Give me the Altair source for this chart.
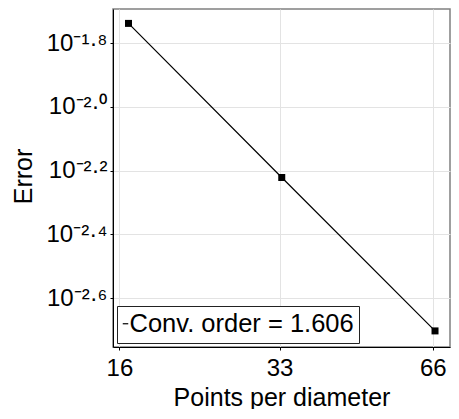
import altair as alt
import pandas as pd

# ---- data ----
points_per_diameter = [50 / 3, 100 / 3, 200 / 3]
error_values = [0.01829, 0.006006, 0.001982]
series_label = "Conv. order = 1.606"

x_tick_values = [16, 33, 66]
y_tick_exponents = [-2.6, -2.4, -2.2, -2.0, -1.8]
y_tick_labels = ["10⁻²·⁶", "10⁻²·⁴", "10⁻²·²", "10⁻²·⁰", "10⁻¹·⁸"]

x_domain = [15.54, 71.34]
y_domain = [10 ** -2.7534, 10 ** -1.6926]

df = pd.DataFrame({
    "ppd": points_per_diameter,
    "err": error_values,
    "series": [series_label] * len(points_per_diameter),
})

# label expression: map exponent*10 -> label
expr = "''"
for e, lab in zip(y_tick_exponents, y_tick_labels):
    expr = f"(round(log(datum.value)/LN10*10) == {round(e*10)}) ? '{lab}' : " + expr
y_vals = [10 ** e for e in y_tick_exponents]

FONT = "Liberation Sans"

x_enc = alt.X(
    "ppd:Q",
    scale=alt.Scale(type="log", domain=x_domain, nice=False, zero=False),
    axis=alt.Axis(
        title="Points per diameter",
        values=x_tick_values,
        format="d",
        labelBaseline="alphabetic",
        labelPadding=25,
        titleY=58,
        titleBaseline="alphabetic",
    ),
)
y_enc = alt.Y(
    "err:Q",
    scale=alt.Scale(type="log", domain=y_domain, nice=False, zero=False),
    axis=alt.Axis(
        title="Error",
        values=y_vals,
        labelExpr=expr,
        labelPadding=3,
        titleX=-82,
        titleY=167,
        titleAngle=270,
        titleBaseline="alphabetic",
    ),
)

line = alt.Chart(df).mark_line(strokeWidth=1.2).encode(
    x=x_enc,
    y=y_enc,
    color=alt.Color(
        "series:N",
        scale=alt.Scale(range=["black"]),
        legend=alt.Legend(
            title=None,
            orient="bottom-left",
            offset=4,
            padding=5,
            symbolType="M-2.4,0L-1.3,0",
            symbolSize=100,
            symbolStrokeWidth=1.2,
            symbolStrokeColor="black",
            symbolFillColor="transparent",
            labelOffset={"expr": "-18"},
            labelFontSize=25.5,
            labelFont=FONT,
            labelColor="black",
            labelLimit=400,
            strokeColor="#222222",
            fillColor="white",
        ),
    ),
)

pts = alt.Chart(df).mark_point(shape="square", filled=True, size=49, opacity=1, color="black").encode(
    x="ppd:Q",
    y="err:Q",
)

chart = (
    alt.layer(line, pts)
    .properties(
        width=337,
        height=338,
        autosize=alt.AutoSizeParams(type="none"),
        padding={"left": 105, "top": 1, "right": 1, "bottom": 62},
    )
    .configure_view(stroke="#808080", strokeWidth=1.5)
    .configure_axis(
        labelFont=FONT,
        titleFont=FONT,
        labelFontSize=24,
        titleFontSize=25,
        labelColor="black",
        titleColor="black",
        titleFontWeight="normal",
        domainColor="black",
        domainWidth=1,
        tickColor="black",
        tickSize=3,
        gridColor="#e3e3e3",
        gridWidth=1,
    )
)

chart.save("out.html", embed_options={"renderer": "svg", "actions": False})
